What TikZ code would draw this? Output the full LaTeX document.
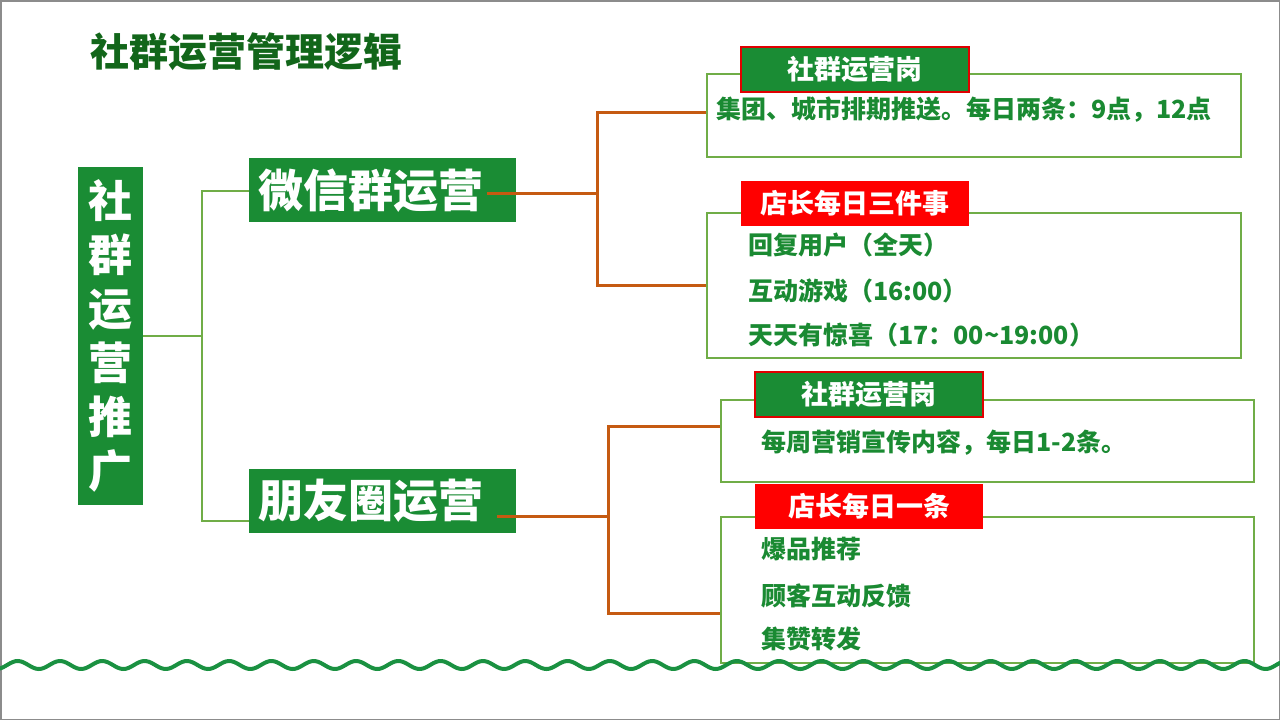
\documentclass[tikz,border=0pt]{standalone}
\usepackage{fontspec}
\setmainfont{Noto Sans CJK SC}
\definecolor{titlegreen}{HTML}{12661A}
\definecolor{boxgreen}{HTML}{1A8C34}
\definecolor{textgreen}{HTML}{1A8A32}
\definecolor{linegreen}{HTML}{70AD47}
\definecolor{orangeline}{HTML}{C55A11}
\definecolor{tagred}{HTML}{E00000}
\definecolor{wavegreen}{HTML}{1A9141}
\definecolor{framegray}{HTML}{8C8C8C}
\tikzset{
  titletext/.style={text=titlegreen, font=\fontsize{39}{39}\selectfont\bfseries, inner sep=0},
  mainbox/.style={fill=boxgreen, text=white, inner sep=0, font=\fontsize{45}{45}\selectfont\bfseries},
  frbox/.style={draw=linegreen, line width=2, inner sep=0, anchor=north west},
  gtag/.style={fill=boxgreen, draw=tagred, line width=1.5, text=white, font=\fontsize{27}{27}\selectfont\bfseries, minimum width=228, minimum height=45, inner sep=0},
  rtag/.style={fill=red, text=white, font=\fontsize{27}{27}\selectfont\bfseries, minimum width=228, minimum height=45, inner sep=0},
  body/.style={text=textgreen, font=\fontsize{25}{25}\selectfont\bfseries, anchor=west, inner sep=0},
  gline/.style={draw=linegreen, line width=2},
  oline/.style={draw=orangeline, line width=3},
  wave/.style={draw=wavegreen, line width=4, line cap=round}
}
\begin{document}
\begin{tikzpicture}[x=1pt,y=-1pt]
\useasboundingbox (0,0) rectangle (1280,720);
\draw[framegray, line width=1.5] (0.75,0.75) rectangle (1279.25,719.25);

% title
\node[titletext] (title) at (246,52) {社群运营管理逻辑};

% left vertical box
\node[mainbox, minimum width=65, minimum height=338, align=center,
      font=\fontsize{44}{54}\selectfont\bfseries] (L) at (110.5,336)
      {社\\群\\运\\营\\推\\广};

% second-level boxes
\node[mainbox, anchor=north west, minimum height=64, inner xsep=9, text width=249, align=left] (wx) at (249,158) {微信群运营};
\node[mainbox, anchor=north west, minimum height=64, inner xsep=9, text width=249, align=left] (py) at (249,469) {朋友圈运营};

% green connectors
\coordinate (j0) at (202,336);
\coordinate (wxin) at (249,191);
\coordinate (pyin) at (249,521);
\draw[gline] (L.east) -- (j0);
\draw[gline] (wxin) -| (j0) |- (pyin);

% right frames
\node[frbox, minimum width=534, minimum height=83] (b1) at (706,73) {};
\node[frbox, minimum width=534, minimum height=145] (b2) at (706,212) {};
\node[frbox, minimum width=533, minimum height=82] (b3) at (720,399) {};
\node[frbox, minimum width=533, minimum height=146] (b4) at (720,516) {};

% tags
\node[gtag] (t1) at (855,69.5) {社群运营岗};
\node[rtag] (t2) at (855,203) {店长每日三件事};
\node[gtag] (t3) at (869,394.5) {社群运营岗};
\node[rtag] (t4) at (869,506.5) {店长每日一条};

% texts
\node[body] (x1) at (716,110) {集团、城市排期推送。每日两条：9点，12点};
\node[body] (x2a) at (748,245) {回复用户（全天）};
\node[body] (x2b) at (748,291) {互动游戏（16:00）};
\node[body] (x2c) at (748,335) {天天有惊喜（17：00\textasciitilde 19:00）};
\node[body] (x3) at (761,443) {每周营销宣传内容，每日1-2条。};
\node[body] (x4a) at (761,549) {爆品推荐};
\node[body] (x4b) at (761,596) {顾客互动反馈};
\node[body] (x4c) at (761,639) {集赞转发};

% orange connectors
\coordinate (wxout) at (487,193);
\coordinate (j1) at (597,193);
\coordinate (b1in) at (706,112);
\coordinate (b2in) at (706,285);
\draw[oline] (wxout) -- (j1);
\draw[oline] (b1in) -| (j1) |- (b2in);

\coordinate (pyout) at (497,516);
\coordinate (j2) at (608,516);
\coordinate (b3in) at (720,426);
\coordinate (b4in) at (720,613);
\draw[oline] (pyout) -- (j2);
\draw[oline] (b3in) -| (j2) |- (b4in);

% wave
\draw[wave] plot[domain=0:1280, samples=500, smooth] (\x, {665 - 4*cos((\x-60)*8.5106)});
\end{tikzpicture}
\end{document}
